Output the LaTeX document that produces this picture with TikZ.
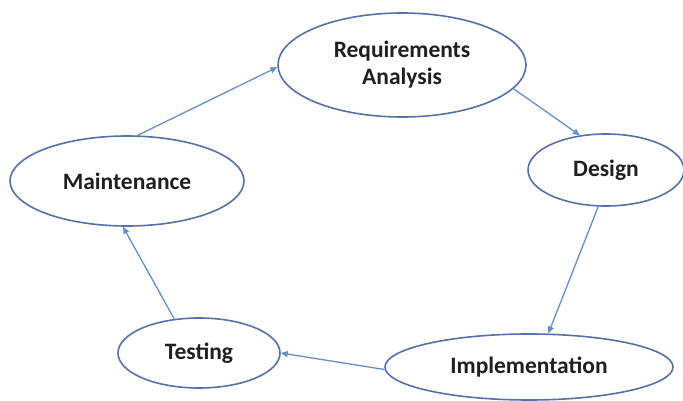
\documentclass[tikz,border=0pt]{standalone}
\usepackage{fontspec}
\setmainfont{Carlito}
\usetikzlibrary{shapes.geometric,arrows.meta}
\definecolor{edgeblue}{HTML}{5670A8}
\definecolor{arrowblue}{HTML}{6490C8}
\tikzset{
  phase/.style={draw=edgeblue, line width=1.6pt, fill=white, ellipse, inner sep=0pt,
    font=\fontsize{23.5}{27}\selectfont\bfseries, text=black!88, align=center},
  flow/.style={draw=arrowblue, line width=1.3pt, -{Triangle[length=7pt,width=6pt]}}
}
\begin{document}
\begin{tikzpicture}[x=1pt,y=-1pt]
\useasboundingbox (0,0) rectangle (683,401);
\node[phase, minimum width=248pt, minimum height=104pt] (req) at (402,65) {Requirements\\Analysis};
\node[phase, minimum width=156pt, minimum height=72pt] (des) at (606,170) {Design};
\node[phase, minimum width=288pt, minimum height=66pt] (imp) at (529,367) {Implementation};
\node[phase, minimum width=162pt, minimum height=70pt] (tes) at (199,353) {Testing};
\node[phase, minimum width=234pt, minimum height=90pt] (mai) at (127,181) {Maintenance};
\draw[flow] (mai.77) -- (req.181);
\draw[flow] (req.-12) -- (des.127);
\draw[flow] (des.-102) -- (imp.60);
\draw[flow] (imp.181) -- (tes.east);
\draw[flow] (tes.126) -- (mai.-95);
\end{tikzpicture}
\end{document}
